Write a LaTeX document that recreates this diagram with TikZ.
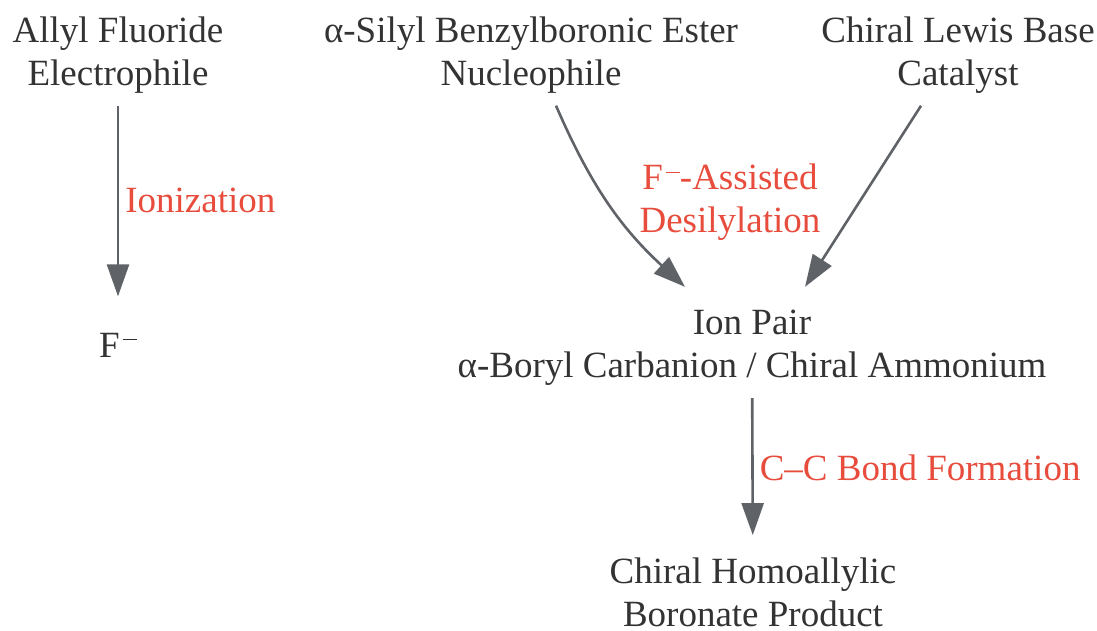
\documentclass[tikz,border=0pt]{standalone}
\usepackage{fontspec}
\setmainfont{Liberation Serif}
\usepackage{tikz}
\usetikzlibrary{arrows.meta,calc}
\definecolor{textdark}{HTML}{333333}
\definecolor{labelred}{HTML}{E74C3C}
\definecolor{arrowgray}{HTML}{5F6368}
\newcommand{\supminus}{\hspace{1.5pt}\rule[8.3pt]{7pt}{0.7pt}}

\begin{document}
\begin{tikzpicture}[x=0.5pt,y=-0.5pt,
    font=\fontsize{18.5}{21.5}\selectfont,
    every node/.style={text=textdark,align=center,inner sep=6pt},
    steplabel/.style={text=labelred,inner sep=3pt},
    flow/.style={draw=arrowgray,line width=1.3pt,
        -{Triangle[length=16pt,width=11pt]}}]
\useasboundingbox (0,0) rectangle (1097,631);

% Starting materials
\node (electrophile) at (118,55) {Allyl Fluoride\\Electrophile};
\node (nucleophile) at (531,55) {α-Silyl Benzylboronic Ester\\Nucleophile};
\node (catalyst) at (958,55) {Chiral Lewis Base\\Catalyst};

% Leaving fluoride
\node[anchor=base] (fluoride) at (118,357) {F\supminus};

% Intermediate
\node (ionpair) at (752,348) {Ion Pair\\α-Boryl Carbanion / Chiral Ammonium};

% Product
\node (product) at (753,592) {Chiral Homoallylic\\Boronate Product};

% Step label between the two arrows
\node[steplabel] (desillabel) at (730,202.5) {F\supminus-Assisted\\Desilylation};

% Arrows
\draw[flow,shorten >=12pt] (electrophile) -- (fluoride)
    node[steplabel,pos=0.44,right] (ionlabel) {Ionization};
\draw[flow] ($(nucleophile.south)+(25,0)$)
    to[bend right=12] ($(ionpair.north)+(-67,-11)$);
\draw[flow] ($(catalyst.south)+(-37,0)$) -- ($(ionpair.north)+(53,-11)$);
\draw[flow,shorten >=5pt] (ionpair) -- (product)
    node[steplabel,pos=0.477,right] (cclabel) {C–C Bond Formation};

\end{tikzpicture}
\end{document}
